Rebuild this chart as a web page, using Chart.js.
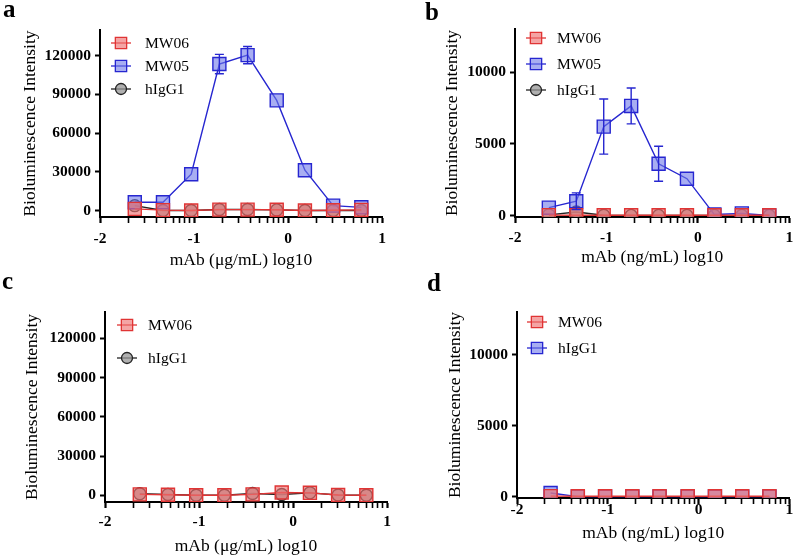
<!DOCTYPE html>
<html><head><meta charset="utf-8">
<script src="https://cdn.jsdelivr.net/npm/chart.js@4.4.0/dist/chart.umd.min.js"></script>
<style>
body{margin:0;background:#fff;width:800px;height:557px;position:relative;overflow:hidden;font-family:'Liberation Serif',serif}
.p{position:absolute}
.lt{position:absolute;font-weight:bold;font-size:25px;line-height:1;font-family:'Liberation Serif',serif;color:#000}
</style></head><body>
<div class="p" style="left:0;top:0;width:400px;height:280px"><canvas id="ca" width="400" height="280"></canvas></div>
<div class="p" style="left:400px;top:0;width:400px;height:280px"><canvas id="cb" width="400" height="280"></canvas></div>
<div class="p" style="left:0;top:280px;width:400px;height:277px"><canvas id="cc" width="400" height="277"></canvas></div>
<div class="p" style="left:400px;top:280px;width:400px;height:277px"><canvas id="cd" width="400" height="277"></canvas></div>
<div class="lt" style="left:3px;top:-4px">a</div>
<div class="lt" style="left:425px;top:-1px">b</div>
<div class="lt" style="left:2px;top:268px">c</div>
<div class="lt" style="left:427px;top:270px">d</div>
<script>
// ---- data ----
const xLog = [-1.63, -1.33, -1.03, -0.73, -0.43, -0.12, 0.18, 0.48, 0.78];
const xMajorTicks = [-2, -1, 0, 1];
const yTicksUg = [0, 30000, 60000, 90000, 120000];
const yTicksNg = [0, 5000, 10000];

const aMW06  = [1300, 300, 0, 700, 700, 600, 0, 200, 500];
const aMW05  = [6400, 6400, 28200, 113600, 120500, 85400, 31300, 3800, 2500];
const aMW05Sd = [0, 0, 0, 7500, 6700, 0, 0, 0, 0];
const aHIgG1 = [3800, 0, 0, 800, 800, 500, 0, 0, 0];

const bMW06  = [30, 20, 20, 20, 20, 20, 20, 20, 20];
const bMW05  = [550, 1000, 6200, 7640, 3610, 2570, 70, 150, 0];
const bMW05Sd = [0, 580, 1920, 1250, 1215, 0, 0, 0, 0];
const bHIgG1 = [50, 250, 20, 10, 10, 10, 10, 10, 10];

const cMW06  = [800, 500, 100, 200, 800, 2200, 2000, 300, 100];
const cHIgG1 = [1300, 700, 100, 100, 1500, 700, 2000, 300, 200];

const dMW06  = [30, 20, 20, 20, 20, 20, 20, 20, 20];
const dHIgG1 = [250, 0, 0, 0, 0, 0, 0, 0, 0];

// ---- styles ----
const FONT = "'Liberation Serif', 'Times New Roman', serif";
const RED  = {border:'#e03434', fill:'rgba(238,115,115,0.65)', style:'rect'};
const BLUE = {border:'#2626d0', fill:'rgba(110,120,234,0.6)', style:'rect'};
const GREY = {border:'#222222', fill:'rgba(150,150,150,0.75)', style:'circle'};

function ds(label, vals, st, err){
  return {
    label, data: vals.map((y,i)=>({x:xLog[i], y})),
    borderColor: st.border, backgroundColor: st.fill,
    pointStyle: st.style, pointRadius: st.style==='rect'?9.2:6,
    pointBorderWidth:1.4, pointBackgroundColor: st.fill, pointBorderColor: st.border,
    borderWidth:1.4, tension:0, fill:false, errors: err || null
  };
}

function markerPath(ctx, style, x, y, r){
  ctx.beginPath();
  if(style==='rect'){ const s=r*Math.SQRT1_2; ctx.rect(x-s,y-s,2*s,2*s); }
  else { ctx.arc(x,y,r,0,Math.PI*2); }
}

const errorBars = {
  id:'errorBars',
  afterDatasetsDraw(chart){
    const ctx = chart.ctx, ys = chart.scales.y;
    chart.data.datasets.forEach((d,i)=>{
      if(!d.errors) return;
      const meta = chart.getDatasetMeta(i);
      ctx.save(); ctx.strokeStyle = d.borderColor; ctx.lineWidth = 1.4;
      meta.data.forEach((pt,j)=>{
        const e = d.errors[j]; if(!e) return;
        const v = d.data[j].y;
        const yt = ys.getPixelForValue(v+e), yb = ys.getPixelForValue(v-e);
        ctx.beginPath();
        ctx.moveTo(pt.x, yt); ctx.lineTo(pt.x, yb);
        ctx.moveTo(pt.x-4.5, yt); ctx.lineTo(pt.x+4.5, yt);
        ctx.moveTo(pt.x-4.5, yb); ctx.lineTo(pt.x+4.5, yb);
        ctx.stroke();
      });
      ctx.restore();
    });
  }
};

const inLegend = {
  id:'inLegend',
  afterDraw(chart, args, o){
    const ctx = chart.ctx;
    chart.data.datasets.forEach((d,i)=>{
      const y = o.rows[i], x = o.x;
      ctx.save();
      ctx.strokeStyle = d.borderColor; ctx.lineWidth = 1.3;
      ctx.beginPath(); ctx.moveTo(x-10,y); ctx.lineTo(x+10,y); ctx.stroke();
      markerPath(ctx, d.pointStyle, x, y, d.pointStyle==='rect'?8:5.5);
      ctx.fillStyle = d.backgroundColor; ctx.fill(); ctx.stroke();
      ctx.fillStyle = '#000'; ctx.font = '15.5px ' + FONT;
      ctx.textBaseline = 'middle'; ctx.textAlign = 'left';
      ctx.fillText(d.label, o.textX, y+1);
      ctx.restore();
    });
  }
};

function xTickList(){
  const t = [];
  for(let d=-2; d<1; d++){
    t.push(d);
    for(let k=2;k<=9;k++) t.push(d+Math.log10(k));
  }
  t.push(1);
  return t;
}
const isMajor = (v)=> xMajorTicks.includes(Math.round(v*1000)/1000);

function makeChart(id, P, datasets, yMin, yMax, yTicks, xTitle){
  new Chart(document.getElementById(id), {
    type:'line',
    data:{datasets},
    options:{
      responsive:false, animation:false,
      layout:{padding:{left:0, top:P.top, right:P.right, bottom:0}},
      plugins:{legend:{display:false}, tooltip:{enabled:false}, inLegend:P.legend},
      scales:{
        x:{
          type:'linear', min:-2, max:1,
          afterBuildTicks(s){ s.ticks = xTickList().map(v=>({value:v})); },
          afterFit(s){ s.height = P.xH; },
          ticks:{autoSkip:false, maxRotation:0, padding:P.xPad, color:'#000',
            font:{family:FONT, size:15.5, weight:'bold'},
            callback:(v)=> isMajor(v) ? String(Math.round(v)) : ''},
          grid:{drawOnChartArea:false, drawTicks:true, tickLength:6, tickColor:'#000',
            tickWidth:(c)=> (c.tick && isMajor(c.tick.value)) ? 2.2 : 1.6},
          border:{display:true, color:'#000', width:2},
          title:{display:true, text:xTitle, color:'#000', font:{family:FONT, size:17.5}, padding:{top:0, bottom:P.xTitlePad}}
        },
        y:{
          type:'linear', min:yMin, max:yMax,
          afterBuildTicks(s){ s.ticks = yTicks.map(v=>({value:v})); },
          afterFit(s){ s.width = P.left; },
          ticks:{padding:4, color:'#000', font:{family:FONT, size:15.5, weight:'bold'}, callback:(v)=>String(v)},
          grid:{drawOnChartArea:false, drawTicks:true, tickLength:5, tickColor:'#000', tickWidth:2},
          border:{display:true, color:'#000', width:2},
          title:{display:true, text:'Bioluminescence Intensity', color:'#000', font:{family:FONT, size:17.5}, padding:{top:P.yTitlePad, bottom:0}}
        }
      }
    },
    plugins:[errorBars, inLegend]
  });
}

makeChart('ca', {left:100, top:30, right:18, xH:63, xPad:6.5, xTitlePad:9.5, yTitlePad:20,
  legend:{x:121, textX:145, rows:[43,66,89]}},
  [ds('MW06',aMW06,RED), ds('MW05',aMW05,BLUE,aMW05Sd), ds('hIgG1',aHIgG1,GREY)],
  -5000, 140000, yTicksUg, 'mAb (\u03bcg/mL) log10');

makeChart('cb', {left:115, top:29, right:6, xH:63, xPad:5.5, xTitlePad:12.5, yTitlePad:42,
  legend:{x:136, textX:157, rows:[38,64,90]}},
  [ds('MW06',bMW06,RED), ds('MW05',bMW05,BLUE,bMW05Sd), ds('hIgG1',bHIgG1,GREY)],
  -100, 13000, yTicksNg, 'mAb (ng/mL) log10');

makeChart('cc', {left:105, top:32, right:13, xH:55, xPad:4.5, xTitlePad:0, yTitlePad:22,
  legend:{x:127, textX:148, rows:[45,78]}},
  [ds('MW06',cMW06,RED), ds('hIgG1',cHIgG1,GREY)],
  -5000, 140000, yTicksUg, 'mAb (\u03bcg/mL) log10');

makeChart('cd', {left:117, top:32, right:6, xH:59, xPad:-3, xTitlePad:13.5, yTitlePad:45,
  legend:{x:137, textX:158, rows:[42,68]}},
  [ds('MW06',dMW06,RED), ds('hIgG1',dHIgG1,BLUE)],
  -100, 13000, yTicksNg, 'mAb (ng/mL) log10');
</script>
</body></html>
